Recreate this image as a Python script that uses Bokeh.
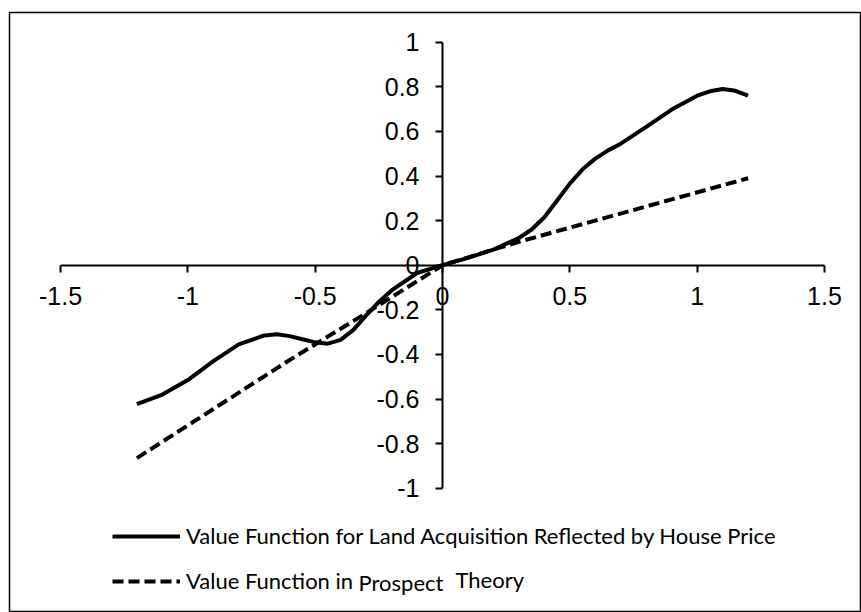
from bokeh.plotting import figure
from bokeh.models import LinearAxis, Range1d, FixedTicker, Legend, LegendItem, Label
from bokeh.embed import file_html
from bokeh.resources import INLINE

# ---- data ----
x_house = [-1.2, -1.1, -1.0, -0.9, -0.8, -0.7, -0.65, -0.6, -0.55, -0.5, -0.45, -0.4,
           -0.35, -0.3, -0.25, -0.2, -0.1, 0.0, 0.1, 0.2, 0.3, 0.35, 0.4, 0.45, 0.5,
           0.55, 0.6, 0.65, 0.7, 0.8, 0.9, 1.0, 1.05, 1.1, 1.15, 1.2]
y_house = [-0.623, -0.58, -0.515, -0.43, -0.355, -0.315, -0.31, -0.318, -0.332, -0.346,
           -0.352, -0.335, -0.29, -0.225, -0.165, -0.113, -0.035, 0.0, 0.033, 0.07,
           0.122, 0.16, 0.215, 0.29, 0.366, 0.43, 0.478, 0.515, 0.545, 0.62, 0.698,
           0.76, 0.78, 0.79, 0.782, 0.76]

x_prospect = [-1.2, -0.9, -0.6, -0.3, 0.0, 0.3, 0.6, 0.9, 1.2]
y_prospect = [-0.865, -0.645, -0.425, -0.215, 0.0, 0.105, 0.2, 0.295, 0.39]

x_ticks = [-1.5, -1.0, -0.5, 0.0, 0.5, 1.0, 1.5]
x_tick_labels = ["-1.5", "-1", "-0.5", "0", "0.5", "1", "1.5"]
y_ticks = [-1.0, -0.8, -0.6, -0.4, -0.2, 0.0, 0.2, 0.4, 0.6, 0.8, 1.0]
y_tick_labels = ["-1", "-0.8", "-0.6", "-0.4", "-0.2", "0", "0.2", "0.4", "0.6", "0.8", "1"]

label_house = "Value Function for Land Acquisition Reflected by House Price"
label_prospect_parts = ["Value Function in", "Prospect", "Theory"]

# ---- layout constants (pixels) ----
W, H = 861, 612
FRAME_LEFT, FRAME_TOP = 9, 12
X0, X1 = -1.7003, 1.6453
Y0, Y1 = -1.5574, 1.1332
FRAME_W, FRAME_H = W - FRAME_LEFT, H - FRAME_TOP


def px_to_x(px):
    return X0 + (px - FRAME_LEFT) / FRAME_W * (X1 - X0)


def py_to_y(py):
    return Y1 - (py - FRAME_TOP) / FRAME_H * (Y1 - Y0)


p = figure(width=W, height=H, output_backend="svg", toolbar_location=None,
           x_range=Range1d(X0, X1), y_range=Range1d(Y0, Y1),
           x_axis_type=None, y_axis_type=None,
           min_border_left=FRAME_LEFT, min_border_right=0,
           min_border_top=FRAME_TOP, min_border_bottom=0)
p.grid.visible = False
p.outline_line_color = "black"
p.outline_line_width = 1.5
p.background_fill_color = "white"
p.border_fill_color = "white"

tick_font = "Liberation Sans"

xaxis = LinearAxis(fixed_location=0, bounds=(-1.5, 1.5), ticker=FixedTicker(ticks=x_ticks),
                   major_label_overrides={t: l for t, l in zip(x_ticks, x_tick_labels)})
yaxis = LinearAxis(fixed_location=0, bounds=(-1.0, 1.0), ticker=FixedTicker(ticks=y_ticks),
                   major_label_overrides={t: l for t, l in zip(y_ticks, y_tick_labels)})
for ax in (xaxis, yaxis):
    ax.axis_line_color = "black"
    ax.axis_line_width = 2
    ax.major_tick_line_color = "black"
    ax.major_tick_line_width = 2
    ax.major_tick_in = 0
    ax.major_tick_out = 7
    ax.minor_tick_line_color = None
    ax.major_label_text_font = tick_font
    ax.major_label_text_font_size = "25px"
    ax.major_label_text_color = "black"
xaxis.major_label_standoff = 15
yaxis.major_label_standoff = 16
p.add_layout(xaxis, "below")
p.add_layout(yaxis, "left")

r1 = p.line(x_house, y_house, line_color="black", line_width=4, line_join="round")
r2 = p.line(x_prospect, y_prospect, line_color="black", line_width=4, line_dash="11 5")

legend_font = "Lato"
legend_size = "22px"
legend = Legend(items=[LegendItem(label=label_house, renderers=[r1]),
                       LegendItem(label=label_prospect_parts[0], renderers=[r2])],
                location=(103, 18), orientation="vertical",
                glyph_width=68, glyph_height=26, label_height=26, spacing=18,
                label_standoff=6, padding=0, margin=0,
                label_text_font=legend_font, label_text_font_size=legend_size,
                label_text_color="black",
                border_line_alpha=0, background_fill_alpha=0)
p.add_layout(legend, "center")

p.add_layout(Label(x=px_to_x(358), y=py_to_y(582), text=label_prospect_parts[1],
                   text_font=legend_font, text_font_size=legend_size,
                   text_baseline="middle", text_align="left", text_color="black"))
p.add_layout(Label(x=px_to_x(455), y=py_to_y(579), text=label_prospect_parts[2],
                   text_font=legend_font, text_font_size=legend_size,
                   text_baseline="middle", text_align="left", text_color="black"))

open("out.html", "w").write(file_html(p, INLINE))
